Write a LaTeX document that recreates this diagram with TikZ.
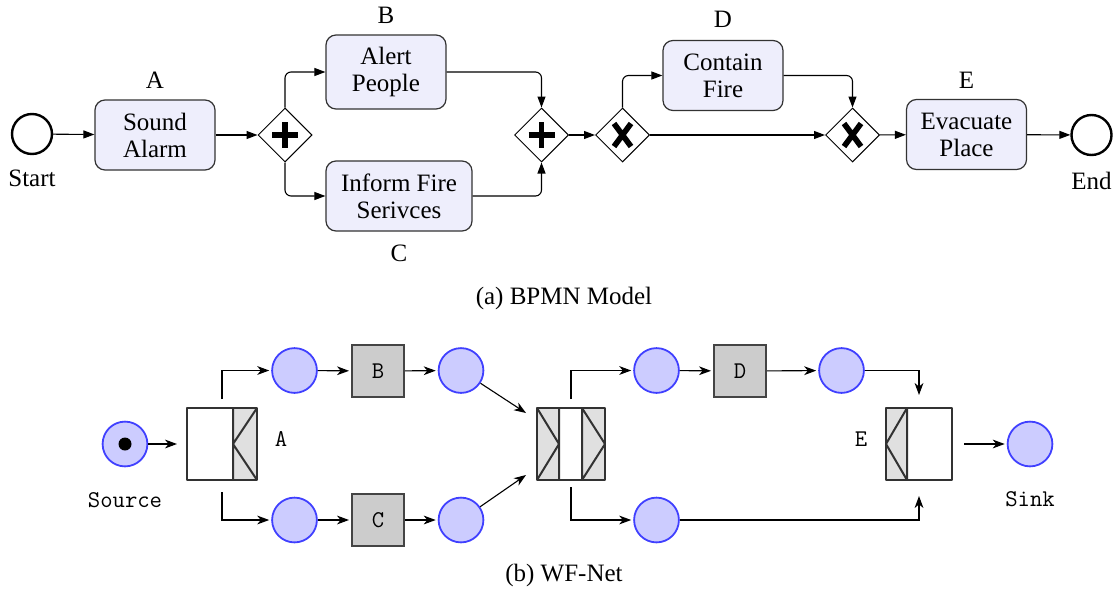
\documentclass[tikz,border=0pt]{standalone}
\usepackage{fontspec}
\setmainfont{Liberation Serif}
\usetikzlibrary{shapes.geometric,arrows.meta,calc}

\definecolor{taskfill}{RGB}{238,238,252}
\definecolor{placefill}{RGB}{204,204,255}
\definecolor{placeline}{RGB}{64,64,255}
\definecolor{transfill}{RGB}{204,204,204}
\definecolor{transline}{RGB}{68,68,68}
\definecolor{compfill}{RGB}{224,224,224}
\definecolor{compline}{RGB}{50,50,50}

\tikzset{
  txt/.style={font=\fontsize{12.5}{13.5}\selectfont},
  ttxt/.style={font=\fontsize{12}{13.5}\selectfont\ttfamily},
  task/.style={draw=black!80, line width=0.6pt, fill=taskfill, rounded corners=5pt,
    minimum width=60pt, minimum height=35pt, align=center, inner sep=2pt, txt},
  gw/.style={diamond, draw, line width=0.5pt, fill=white, minimum width=27pt,
    minimum height=27pt, inner sep=0pt, aspect=1},
  event/.style={circle, draw, line width=1.2pt, minimum size=20pt, inner sep=0pt},
  flow/.style={line width=0.55pt, -{Triangle[length=5.5pt,width=4pt]}, rounded corners=3pt},
  gwmark/.style={line width=2.8pt},
  place/.style={circle, draw=placeline, fill=placefill, line width=0.9pt,
    minimum size=22.4pt, inner sep=0pt},
  trans/.style={draw=transline, fill=transfill, line width=1pt, minimum size=26pt,
    inner sep=0pt, ttxt},
  comp/.style={fill=white, minimum height=36pt, inner sep=0pt, outer sep=0pt},
  compedge/.style={draw=compline, line width=1pt, line join=round},
  arc/.style={line width=0.55pt, -{Stealth[length=6pt,width=4.4pt,inset=1.8pt]},
    shorten >=1pt},
}

\begin{document}
\begin{tikzpicture}[x=0.5pt, y=-0.5pt]
\useasboundingbox (0,0) rectangle (1118,589);

% ---------------- BPMN model ----------------
\node[event] (start) at (32,134) {};
\node[txt] (startlbl) at (32,178) {Start};

\node[task] (sa) at (155,135) {Sound\\Alarm};
\node[txt] (salbl) at (155,80) {A};

\node[gw] (g1) at (285,135) {};
\draw[gwmark] ([shift={(-13,0)}]g1.center) -- ([shift={(13,0)}]g1.center)
              ([shift={(0,-13)}]g1.center) -- ([shift={(0,13)}]g1.center);

\node[task, minimum height=37pt] (ap) at (386,72) {Alert\\People};
\node[txt] (aplbl) at (386,15) {B};

\node[task, minimum width=73pt] (ifs) at (399,196) {Inform Fire\\Serivces};
\node[txt] (ifslbl) at (399,253) {C};

\node[gw] (g2) at (541.5,135) {};
\draw[gwmark] ([shift={(-13,0)}]g2.center) -- ([shift={(13,0)}]g2.center)
              ([shift={(0,-13)}]g2.center) -- ([shift={(0,13)}]g2.center);

\node[gw] (g3) at (622.5,135) {};
\draw[gwmark] ([shift={(-8.5,-11.5)}]g3.center) -- ([shift={(8.5,11.5)}]g3.center)
              ([shift={(8.5,-11.5)}]g3.center) -- ([shift={(-8.5,11.5)}]g3.center);

\node[task] (cf) at (723,75.5) {Contain\\Fire};
\node[txt] (cflbl) at (723,19) {D};

\node[gw] (g4) at (852.5,135) {};
\draw[gwmark] ([shift={(-8.5,-11.5)}]g4.center) -- ([shift={(8.5,11.5)}]g4.center)
              ([shift={(8.5,-11.5)}]g4.center) -- ([shift={(-8.5,11.5)}]g4.center);

\node[task] (ep) at (966.5,134.5) {Evacuate\\Place};
\node[txt] (eplbl) at (966.5,80) {E};

\node[event] (end) at (1091.5,135) {};
\node[txt] (endlbl) at (1091.5,181) {End};

\draw[flow] (start) -- (sa);
\draw[flow] (sa) -- (g1);
\draw[flow] (g1.north) |- (ap);
\draw[flow] (g1.south) |- (ifs);
\draw[flow] (ap) -| (g2.north);
\draw[flow] (ifs) -| (g2.south);
\draw[flow] (g2) -- (g3);
\draw[flow] (g3.north) |- (cf);
\draw[flow] (g3) -- (g4);
\draw[flow] (cf) -| (g4.north);
\draw[flow] (g4) -- (ep);
\draw[flow] (ep) -- (end);

\node[txt] (capa) at (564,298) {(a) BPMN Model};

% ---------------- WF-net ----------------
\node[place] (src) at (125,444) {};
\node[circle, fill=black, inner sep=0pt, minimum size=6.5pt] (tok) at (src) {};
\node[ttxt] (srclbl) at (125,500) {Source};

% AND-split transition A
\node[comp, minimum width=35pt] (tA) at (222,444) {};
\fill[compfill] ([xshift=-12pt]tA.north east) rectangle (tA.south east);
\draw[compedge] ([xshift=-12pt]tA.north east) -- ([xshift=-12pt]tA.south east)
  (tA.north east) -- ([xshift=-12pt]tA.east) -- (tA.south east);
\draw[compedge] (tA.north west) rectangle (tA.south east);
\node[ttxt] (tAlbl) at (281,439) {A};

\node[place] (p1) at (294.5,370.5) {};
\node[trans] (tB) at (378,371) {B};
\node[place] (p2) at (461,370.5) {};

\node[place] (p3) at (294.5,520) {};
\node[trans] (tC) at (378,520) {C};
\node[place] (p4) at (461,520) {};

% AND-join / XOR-split transition
\node[comp, minimum width=34pt] (tJ) at (571,444) {};
\fill[compfill] (tJ.north west) rectangle ([xshift=11pt]tJ.south west);
\fill[compfill] ([xshift=-11.5pt]tJ.north east) rectangle (tJ.south east);
\draw[compedge] ([xshift=11pt]tJ.north west) -- ([xshift=11pt]tJ.south west)
  ([xshift=-11.5pt]tJ.north east) -- ([xshift=-11.5pt]tJ.south east)
  (tJ.north west) -- ([xshift=11pt]tJ.west) -- (tJ.south west)
  ([xshift=-11.5pt]tJ.north east) -- (tJ.east) -- ([xshift=-11.5pt]tJ.south east);
\draw[compedge] (tJ.north west) rectangle (tJ.south east);

\node[place] (p5) at (656.5,370.5) {};
\node[trans] (tD) at (740,371) {D};
\node[place] (p6) at (841.5,370.5) {};
\node[place] (p7) at (656.5,520) {};

% XOR-join transition E
\node[comp, minimum width=33pt] (tE) at (919,444) {};
\fill[compfill] (tE.north west) rectangle ([xshift=10.5pt]tE.south west);
\draw[compedge] ([xshift=10.5pt]tE.north west) -- ([xshift=10.5pt]tE.south west)
  ([xshift=10.5pt]tE.north west) -- (tE.west) -- ([xshift=10.5pt]tE.south west);
\draw[compedge] (tE.north west) rectangle (tE.south east);
\node[ttxt] (tElbl) at (861,439) {E};

\node[place] (sink) at (1030,444) {};
\node[ttxt] (sinklbl) at (1030,499) {Sink};

\draw[arc, shorten >=5pt] (src) -- (tA);
\draw[arc, shorten <=4.5pt] (tA.north) |- (p1);
\draw[arc, shorten <=6pt] (tA.south) |- (p3);
\draw[arc] (p1) -- (tB);
\draw[arc] (tB) -- (p2);
\draw[arc] (p3) -- (tC);
\draw[arc] (tC) -- (p4);
\coordinate (jin1) at ([xshift=-5.5pt,yshift=-2.5pt]tJ.north west);
\coordinate (jin2) at ([xshift=-5.5pt,yshift=2.5pt]tJ.south west);
\draw[arc, shorten >=0pt] (p2) -- (jin1);
\draw[arc, shorten >=0pt] (p4) -- (jin2);
\draw[arc, shorten <=4.5pt] (tJ.north) |- (p5);
\draw[arc, shorten <=3.5pt] (tJ.south) |- (p7);
\draw[arc] (p5) -- (tD);
\draw[arc] (tD) -- (p6);
\coordinate (ein1) at ([yshift=6.5pt]tE.north);
\coordinate (ein2) at ([yshift=-8pt]tE.south);
\draw[arc, shorten >=0pt] (p6) -| (ein1);
\draw[arc, shorten >=0pt] (p7) -| (ein2);
\draw[arc, shorten <=6pt] (tE) -- (sink);

\node[txt] (capb) at (564,575) {(b) WF-Net};
\end{tikzpicture}
\end{document}
